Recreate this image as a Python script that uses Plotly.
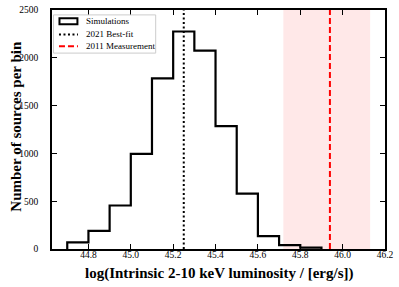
import plotly.graph_objects as go

bin_edges = [44.7, 44.8, 44.9, 45.0, 45.1, 45.2, 45.3, 45.4, 45.5, 45.6, 45.7, 45.8, 45.9]
counts = [70, 190, 455, 995, 1785, 2275, 2075, 1285, 580, 135, 40, 15]
best_fit_2021 = 45.25
meas_2011 = 45.94
meas_2011_lo = 45.72
meas_2011_hi = 46.13
x_ticks = [44.8, 45.0, 45.2, 45.4, 45.6, 45.8, 46.0, 46.2]
y_ticks = [0, 500, 1000, 1500, 2000, 2500]
legend_labels = ["Simulations", "2021 Best-fit", "2011 Measurement"]
x_title = "log(Intrinsic 2-10 keV luminosity / [erg/s])"
y_title = "Number of sources per bin"

# build step outline
sx, sy = [bin_edges[0]], [0]
for i, c in enumerate(counts):
    sx += [bin_edges[i], bin_edges[i + 1]]
    sy += [c, c]
sx.append(bin_edges[-1])
sy.append(0)

FONT = "Liberation Serif, Times New Roman, serif"
W, H = 399, 287
ML, MR, MT, MB = 52, 13, 5, 38


def px(x):
    return (x - ML) / (W - ML - MR)


def py(y):
    return (H - MB - y) / (H - MT - MB)


fig = go.Figure()
fig.add_shape(type="rect", x0=meas_2011_lo, x1=meas_2011_hi, y0=0, y1=1,
              xref="x", yref="paper", fillcolor="rgba(255,0,0,0.09)",
              line=dict(width=0), layer="below")
fig.add_trace(go.Scatter(x=sx, y=sy, mode="lines", line=dict(color="black", width=2.2),
                         showlegend=False, hoverinfo="skip"))
fig.add_trace(go.Scatter(x=[best_fit_2021, best_fit_2021], y=[0, y_ticks[-1]], mode="lines",
                         line=dict(color="black", width=2, dash="2px,2.5px"),
                         showlegend=False, hoverinfo="skip"))
fig.add_trace(go.Scatter(x=[meas_2011, meas_2011], y=[0, y_ticks[-1]], mode="lines",
                         line=dict(color="red", width=2, dash="6px,3px"),
                         showlegend=False, hoverinfo="skip"))

# manual legend (matplotlib style)
fig.add_shape(type="rect", xref="paper", yref="paper", x0=px(53.5), x1=px(156), y0=py(49), y1=py(10),
              line=dict(color="#cccccc", width=1), fillcolor="rgba(255,255,255,0.85)")
fig.add_shape(type="rect", xref="paper", yref="paper", x0=px(59.5), x1=px(77.5), y0=py(19.5), y1=py(13.5),
              line=dict(color="black", width=2), fillcolor="white")
fig.add_shape(type="line", xref="paper", yref="paper", x0=px(59), x1=px(78), y0=py(30), y1=py(30),
              line=dict(color="black", width=2, dash="2px,2.5px"))
fig.add_shape(type="line", xref="paper", yref="paper", x0=px(59), x1=px(78), y0=py(42), y1=py(42),
              line=dict(color="red", width=2, dash="6px,3px"))
for lab, yc in zip(legend_labels, [16.5, 29.5, 42]):
    fig.add_annotation(text=lab, xref="paper", yref="paper", x=px(84.5), y=py(yc),
                       xanchor="left", yanchor="middle", showarrow=False,
                       font=dict(family=FONT, size=9, color="black"))

# axis titles as annotations to place them precisely
fig.add_annotation(text=f"<b>{y_title}</b>", xref="paper", yref="paper",
                   x=px(15), y=py(124), textangle=-90, showarrow=False,
                   xanchor="center", yanchor="middle",
                   font=dict(family=FONT, size=15, color="black"))
fig.add_annotation(text=f"<b>{x_title}</b>", xref="paper", yref="paper",
                   x=px(220), y=py(274.5), showarrow=False,
                   xanchor="center", yanchor="middle",
                   font=dict(family=FONT, size=15, color="black"))

axis_common = dict(showgrid=False, zeroline=False, showline=True, linecolor="black",
                   linewidth=1.8, mirror="ticks", ticks="inside", ticklen=5, tickwidth=1.2,
                   tickcolor="black", tickfont=dict(family=FONT, size=9.5, color="black"))
fig.update_xaxes(range=[44.628, 46.2], tickvals=x_ticks,
                 ticktext=[f"{v:.1f}" for v in x_ticks], ticklabelstandoff=-4,
                 **axis_common)
fig.update_yaxes(range=[0, y_ticks[-1]], tickvals=y_ticks, ticklabelstandoff=10,
                 **axis_common)
fig.update_layout(width=W, height=H, margin=dict(l=ML, r=MR, t=MT, b=MB),
                  plot_bgcolor="white", paper_bgcolor="white", showlegend=False)
fig.write_html("out.html", config={"displayModeBar": False},
               post_script="document.body.style.margin='0';document.body.style.overflow='hidden';")
